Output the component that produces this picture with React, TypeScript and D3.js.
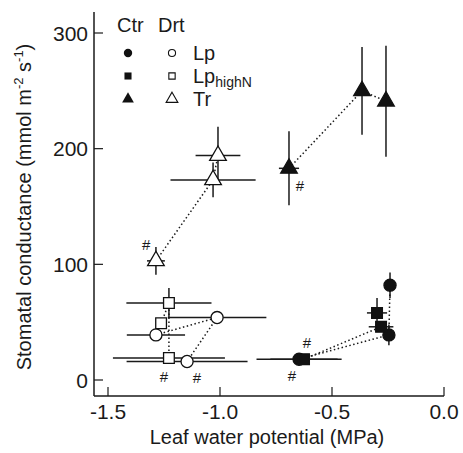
import React from "react";
import * as d3 from "d3";

// wp = leaf water potential (MPa), gs = stomatal conductance, *Se = error bar half-widths
const lpCtr = [
  { wp: -0.647, gs: 18, wpSe: 0.19, gsSe: 0 },
  { wp: -0.246, gs: 39, wpSe: 0.01, gsSe: 9 },
  { wp: -0.241, gs: 82, wpSe: 0.01, gsSe: 11 },
];
const lpHighNCtr = [
  { wp: -0.625, gs: 18, wpSe: 0.15, gsSe: 0 },
  { wp: -0.281, gs: 46, wpSe: 0.055, gsSe: 3 },
  { wp: -0.299, gs: 58, wpSe: 0.045, gsSe: 13 },
];
const trCtr = [
  { wp: -0.692, gs: 183, wpSe: 0.045, gsSe: 32 },
  { wp: -0.366, gs: 250, wpSe: 0, gsSe: 38 },
  { wp: -0.259, gs: 241, wpSe: 0, gsSe: 48 },
];
const lpDrt = [
  { wp: -1.286, gs: 39, wpSe: 0.13, gsSe: 2 },
  { wp: -1.013, gs: 54, wpSe: 0.22, gsSe: 3 },
  { wp: -1.147, gs: 16, wpSe: 0.27, gsSe: 2 },
];
const lpHighNDrt = [
  { wp: -1.263, gs: 49, wpSe: 0.02, gsSe: 3 },
  { wp: -1.228, gs: 66.5, wpSe: 0.19, gsSe: 13 },
  { wp: -1.228, gs: 19, wpSe: 0.25, gsSe: 3 },
];
const trDrt = [
  { wp: -1.286, gs: 103, wpSe: 0.04, gsSe: 12 },
  { wp: -1.031, gs: 173, wpSe: 0.19, gsSe: 15 },
  { wp: -1.009, gs: 194, wpSe: 0.1, gsSe: 25 },
];

// significance marks (#)
const marks = [
  { wp: -1.25, gs: 3 },
  { wp: -1.103, gs: 2 },
  { wp: -0.612, gs: 32 },
  { wp: -0.679, gs: 4 },
  { wp: -1.33, gs: 117 },
  { wp: -0.643, gs: 168 },
];

const xTicks = [-1.5, -1.0, -0.5, 0.0];
const yTicks = [0, 100, 200, 300];

const x = d3.scaleLinear().domain([-1.5, 0]).range([108, 444]);
const y = d3.scaleLinear().domain([0, 300]).range([380, 33]);

const sym = {
  circle: d3.symbol(d3.symbolCircle, 115)(),
  square: d3.symbol(d3.symbolSquare, 115)(),
  triangle: d3.symbol(d3.symbolTriangle, 120)(),
};
const legSym = {
  circle: d3.symbol(d3.symbolCircle, 55)(),
  openCircle: d3.symbol(d3.symbolCircle, 40)(),
  square: d3.symbol(d3.symbolSquare, 50)(),
  openSquare: d3.symbol(d3.symbolSquare, 40)(),
  triangle: d3.symbol(d3.symbolTriangle, 60)(),
};

const series = [
  { data: lpDrt, shape: sym.circle, filled: false },
  { data: lpHighNDrt, shape: sym.square, filled: false },
  { data: trDrt, shape: sym.triangle, filled: false },
  { data: lpCtr, shape: sym.circle, filled: true },
  { data: lpHighNCtr, shape: sym.square, filled: true },
  { data: trCtr, shape: sym.triangle, filled: true },
];

const line = d3.line<any>().x(d => x(d.wp)).y(d => y(d.gs));
const ink = "#1a1a1a";

export default function App() {
  return (
    <svg width={463} height={453} style={{ position: "absolute", left: 0, top: 0, background: "#fff" }}
      fontFamily="'Liberation Sans', Arial, sans-serif">
      {/* axes */}
      <line x1={94} x2={94} y1={12} y2={396} stroke={ink} strokeWidth={1.5} />
      <line x1={94} x2={444} y1={396} y2={396} stroke={ink} strokeWidth={1.5} />
      {yTicks.map(t => (
        <g key={"y" + t}>
          <line x1={94} x2={103} y1={y(t)} y2={y(t)} stroke={ink} strokeWidth={1.2} />
          <text x={88} y={y(t)} dy="0.36em" textAnchor="end" fontSize={21} fill={ink}>{t}</text>
        </g>
      ))}
      {xTicks.map(t => (
        <g key={"x" + t}>
          <line x1={x(t)} x2={x(t)} y1={396} y2={387} stroke={ink} strokeWidth={1.2} />
          <text x={x(t)} y={419} textAnchor="middle" fontSize={21} fill={ink}>{t.toFixed(1)}</text>
        </g>
      ))}
      <text x={267} y={444} textAnchor="middle" fontSize={20} fill={ink}>Leaf water potential (MPa)</text>
      <text transform="translate(31,207) rotate(-90)" textAnchor="middle" fontSize={20} fill={ink}>
        Stomatal conductance (mmol m<tspan fontSize={13} dy={-8}>-2</tspan>
        <tspan dy={8}> s</tspan><tspan fontSize={13} dy={-8}>-1</tspan><tspan dy={8}>)</tspan>
      </text>

      {/* dotted connectors */}
      {series.map((s, i) => (
        <path key={"l" + i} d={line(s.data) || ""} fill="none" stroke={ink} strokeWidth={1.5} strokeDasharray="1.5,2.5" />
      ))}

      {/* error bars */}
      {series.map((s, i) => (
        <g key={"e" + i} stroke={ink} strokeWidth={1.5}>
          {s.data.map((d, j) => (
            <g key={j}>
              {d.wpSe > 0 && <line x1={x(d.wp - d.wpSe)} x2={x(d.wp + d.wpSe)} y1={y(d.gs)} y2={y(d.gs)} />}
              {d.gsSe > 0 && <line x1={x(d.wp)} x2={x(d.wp)} y1={y(d.gs - d.gsSe)} y2={y(d.gs + d.gsSe)} />}
            </g>
          ))}
        </g>
      ))}

      {/* markers */}
      {series.map((s, i) => (
        <g key={"m" + i}>
          {s.data.map((d, j) => (
            <path key={j} d={s.shape || ""} transform={`translate(${x(d.wp)},${y(d.gs)})`}
              fill={s.filled ? "#111" : "#fff"} stroke="#111" strokeWidth={1.3} />
          ))}
        </g>
      ))}

      {marks.map((m, i) => (
        <text key={"h" + i} x={x(m.wp)} y={y(m.gs)} dy="0.35em" textAnchor="middle" fontSize={15} fill={ink}>#</text>
      ))}

      {/* legend */}
      <text x={117} y={32} fontSize={20} fill={ink}>Ctr</text>
      <text x={158} y={32} fontSize={20} fill={ink}>Drt</text>
      <path d={legSym.circle || ""} transform="translate(128,53)" fill="#111" />
      <path d={legSym.square || ""} transform="translate(128,76)" fill="#111" />
      <path d={legSym.triangle || ""} transform="translate(128,99)" fill="#111" />
      <path d={legSym.openCircle || ""} transform="translate(172,53)" fill="#fff" stroke="#111" strokeWidth={1.1} />
      <path d={legSym.openSquare || ""} transform="translate(172,76)" fill="#fff" stroke="#111" strokeWidth={1.1} />
      <path d={legSym.triangle || ""} transform="translate(172,99)" fill="#fff" stroke="#111" strokeWidth={1.1} />
      <text x={193} y={60} fontSize={20} fill={ink}>Lp</text>
      <text x={193} y={83} fontSize={20} fill={ink}>Lp<tspan fontSize={14} dy={4}>highN</tspan></text>
      <text x={193} y={106} fontSize={20} fill={ink}>Tr</text>
    </svg>
  );
}
